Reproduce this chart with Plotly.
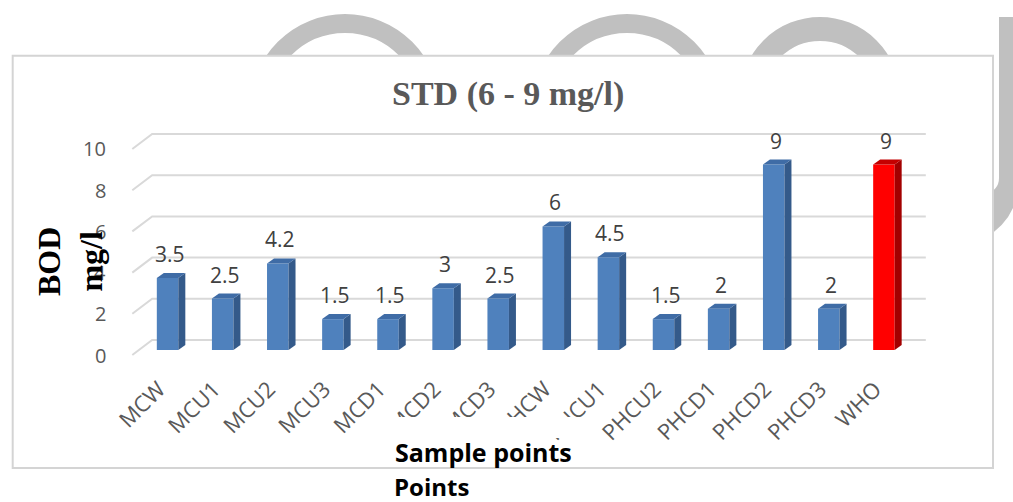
import plotly.graph_objects as go

# ---------------- data ----------------
categories = ["MCW", "MCU1", "MCU2", "MCU3", "MCD1", "MCD2", "MCD3",
              "PHCW", "PHCU1", "PHCU2", "PHCD1", "PHCD2", "PHCD3", "WHO"]
bod_values = [3.5, 2.5, 4.2, 1.5, 1.5, 3, 2.5, 6, 4.5, 1.5, 2, 9, 2, 9]
y_tick_values = [0, 2, 4, 6, 8, 10]
y_tick_labels = ["0", "2", "4", "6", "8", "10"]
title_text = "STD (6 - 9 mg/l)"
y_title = "BOD<br>mg/l"
x_title = "Sample points"
x_title2 = "Points"

# ---------------- styles ----------------
FRONT = ["#4F81BD"] * 13 + ["#FF0000"]
SIDE = ["#345A8A"] * 13 + ["#A30000"]
TOP = ["#3F6CA6"] * 13 + ["#C40000"]
GRID = "#D9D9D9"

W, H = 1013, 502
L, R, T, B = 129, 928, 110, 360          # plot area in pixels
XR = [-0.7, 13.8]
YR = [-0.485, 11.65]
xu = (R - L) / (XR[1] - XR[0])           # px per category unit
yu = (B - T) / (YR[1] - YR[0])           # px per value unit

def pxx(p):
    return (p - L) / (R - L)

def pxy(p):
    return (B - p) / (B - T)

bar_w = 21.5 / xu
dx = 7 / xu
dy = 5 / yu

fig = go.Figure()

# back-wall gridlines (3D look)
for g in y_tick_values:
    fig.add_trace(go.Scatter(
        x=[-0.64, -0.28, 13.76],
        y=[g - 5 / yu, g + 10 / yu, g + 10 / yu],
        mode="lines", line=dict(color=GRID, width=2),
        hoverinfo="skip", showlegend=False))

idx = list(range(len(categories)))

# bars: front, side and top faces
for i, v in enumerate(bod_values):
    xl = i - bar_w / 2
    xr = i + bar_w / 2
    fig.add_trace(go.Scatter(
        x=[xl, xr, xr, xl, xl],
        y=[0, 0, v, v, 0],
        fill="toself", fillcolor=FRONT[i], mode="lines",
        line=dict(width=0, color=FRONT[i]),
        hoverinfo="skip", showlegend=False))
    fig.add_trace(go.Scatter(
        x=[xr, xr, xr + dx, xr + dx, xr],
        y=[0, v, v + dy, dy, 0],
        fill="toself", fillcolor=SIDE[i], mode="lines",
        line=dict(width=0, color=SIDE[i]),
        hoverinfo="skip", showlegend=False))
    fig.add_trace(go.Scatter(
        x=[xl, xr, xr + dx, xl + dx, xl],
        y=[v, v, v + dy, v + dy, v],
        fill="toself", fillcolor=TOP[i], mode="lines",
        line=dict(width=0, color=TOP[i]),
        hoverinfo="skip", showlegend=False))

annotations = []
# data labels
for i, v in enumerate(bod_values):
    annotations.append(dict(
        x=i, y=v, xref="x", yref="y", text=f"{v:g}", showarrow=False,
        xanchor="center", yanchor="middle", yshift=24, xshift=2,
        font=dict(family="Open Sans", size=21, color="#404040")))
# y tick labels
for g, lab in zip(y_tick_values, y_tick_labels):
    annotations.append(dict(
        x=pxx(108), y=g, xref="paper", yref="y", text=lab, showarrow=False,
        xanchor="right", yanchor="middle", yshift=-5,
        font=dict(family="Open Sans", size=20, color="#595959")))
# titles
annotations.append(dict(
    x=pxx(508), y=pxy(94), xref="paper", yref="paper", text=f"<b>{title_text}</b>",
    showarrow=False, xanchor="center", yanchor="middle",
    font=dict(family="Liberation Serif", size=34, color="#595959")))
annotations.append(dict(
    x=pxx(70), y=pxy(262), xref="paper", yref="paper", text=f"<b>{y_title}</b>",
    showarrow=False, xanchor="center", yanchor="middle", textangle=-90,
    font=dict(family="Liberation Serif", size=32, color="#000000")))
annotations.append(dict(
    x=pxx(483), y=pxy(452), xref="paper", yref="paper", text=f"<b>{x_title}</b>",
    showarrow=False, xanchor="center", yanchor="middle",
    font=dict(family="Open Sans", size=25, color="#000000")))
annotations.append(dict(
    x=pxx(431), y=pxy(486), xref="paper", yref="paper", text=f"<b>{x_title2}</b>",
    showarrow=False, xanchor="center", yanchor="middle",
    font=dict(family="Open Sans", size=24, color="#000000")))

WM = "#C0C0C0"

def ring(cx, cy, r, w):
    return dict(type="circle", xref="paper", yref="paper", layer="below",
                x0=pxx(cx - r), x1=pxx(cx + r), y0=pxy(cy + r), y1=pxy(cy - r),
                line=dict(color=WM, width=w), fillcolor="rgba(0,0,0,0)")

def P(x, y):
    return f"{pxx(x):.5f},{pxy(y):.5f}"

shapes = [
    ring(345, 109, 85.5, 19),
    ring(627, 109, 85.5, 19),
    ring(820, 97, 68, 24),
    dict(type="path", xref="paper", yref="paper", layer="below",
         path=f"M {P(999,17)} L {P(1013,17)} L {P(1013,208)} Q {P(1005,226)} {P(985,238)} "
              f"L {P(985,195)} Q {P(999,190)} {P(999,178)} Z",
         fillcolor=WM, line=dict(width=0)),
    # chart box
    dict(type="rect", xref="paper", yref="paper", layer="below",
         x0=pxx(12.7), x1=pxx(993), y0=pxy(468), y1=pxy(55.7),
         fillcolor="white", line=dict(color="#D4D4D4", width=2)),
    # white watermark stroke crossing some axis labels
    dict(type="rect", xref="paper", yref="paper", layer="above",
         x0=pxx(386), x1=pxx(598), y0=pxy(438), y1=pxy(417),
         fillcolor="white", line=dict(width=0)),
]

fig.update_layout(
    width=W, height=H,
    margin=dict(l=L, r=W - R, t=T, b=H - B, pad=0),
    paper_bgcolor="white", plot_bgcolor="rgba(0,0,0,0)",
    showlegend=False, hovermode=False,
    xaxis=dict(range=XR, tickmode="array", tickvals=[i - 0.16 for i in idx],
               ticktext=categories,
               tickangle=-45, showgrid=False, zeroline=False, showline=False,
               ticks="", ticklabelstandoff=11,
               tickfont=dict(family="Open Sans", size=22, color="#595959")),
    yaxis=dict(range=YR, showgrid=False, zeroline=False, showline=False,
               showticklabels=False, ticks=""),
    annotations=annotations,
    shapes=shapes,
)

fig.write_html("out.html")
